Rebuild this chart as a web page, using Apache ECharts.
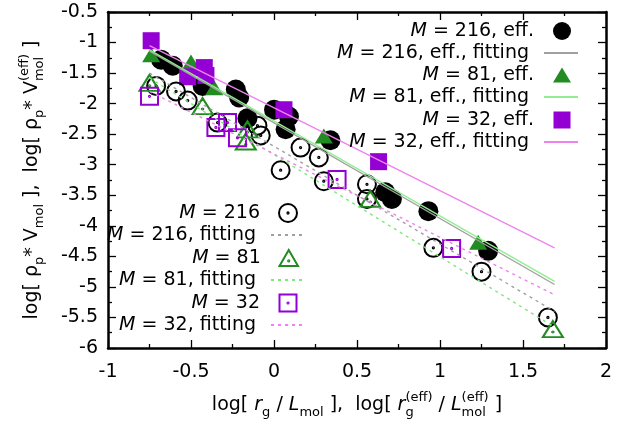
<!DOCTYPE html>
<html>
<head>
<meta charset="utf-8">
<script src="https://cdn.jsdelivr.net/npm/echarts@6/dist/echarts.min.js"></script>
<style>
html, body { margin: 0; padding: 0; background: #fff; }
#chart { width: 633px; height: 426px; }
</style>
</head>
<body>
<div id="chart"></div>
<script>
const FONT = "DejaVu Sans";

// axis ranges / ticks
const xMin = -1, xMax = 2, xStep = 0.5;
const yMin = -6, yMax = -0.5, yStep = 0.5;

// effective values (filled symbols), [log rg/L, log rho V]
const eff216 = [[-0.68, -1.28], [-0.61, -1.38], [-0.43, -1.71], [-0.23, -1.77], [-0.21, -1.90],
  [-0.16, -2.24], [0.00, -2.10], [0.09, -2.21], [0.07, -2.42], [0.34, -2.60],
  [0.67, -3.45], [0.71, -3.56], [0.93, -3.76], [1.29, -4.41]];
const eff81 = [[-0.74, -1.20], [-0.50, -1.32], [-0.36, -1.74], [0.30, -2.53], [1.23, -4.27]];
const eff32 = [[-0.74, -0.97], [-0.52, -1.56], [-0.42, -1.41], [-0.41, -1.54], [0.06, -2.10], [0.63, -2.95]];

// plain values (open symbols)
const raw216 = [[-0.71, -1.71], [-0.59, -1.80], [-0.52, -1.95], [-0.34, -2.31], [-0.10, -2.36],
  [-0.08, -2.52], [0.16, -2.72], [0.27, -2.88], [0.04, -3.09], [0.30, -3.27],
  [0.56, -3.32], [0.56, -3.56], [0.96, -4.36], [1.25, -4.75], [1.65, -5.50]];
const raw81 = [[-0.75, -1.66], [-0.43, -2.04], [-0.16, -2.42], [-0.17, -2.62], [0.58, -3.56], [1.68, -5.69]];
const raw32 = [[-0.75, -1.88], [-0.35, -2.39], [-0.28, -2.31], [-0.22, -2.56], [0.38, -3.24], [1.07, -4.37]];

// fitted lines (end points)
const fitEff216 = [[-0.75, -1.14], [1.69, -4.96]];
const fitEff81 = [[-0.75, -1.12], [1.69, -4.91]];
const fitEff32 = [[-0.75, -1.05], [1.69, -4.36]];
const fit216 = [[-0.75, -1.50], [1.69, -5.40]];
const fit81 = [[-0.75, -1.58], [1.69, -5.66]];
const fit32 = [[-0.75, -1.80], [1.69, -5.13]];

const GREEN = "#228B22", PURPLE = "#9400D3", GRAY = "#A0A0A0", LGREEN = "#90EE90", PINK = "#EE82EE";
const DOT_GREEN = "#7ee87e";

const ringDot = "path://M0,-10A10,10,0,1,1,0,10A10,10,0,1,1,0,-10ZM0,-0.7A0.7,0.7,0,1,1,0,0.7A0.7,0.7,0,1,1,0,-0.7Z";
const triDot = "path://M0,-10L11,9L-11,9ZM0,2.3A0.7,0.7,0,1,1,0,3.7A0.7,0.7,0,1,1,0,2.3Z";
const boxDot = "path://M-10,-10L10,-10L10,10L-10,10ZM0,-0.7A0.7,0.7,0,1,1,0,0.7A0.7,0.7,0,1,1,0,-0.7Z";

const scatter = (name, data, symbol, size, style) => ({
  name: name, type: "scatter", data: data, symbol: symbol, symbolSize: size,
  itemStyle: Object.assign({ opacity: 1 }, style), silent: true
});
const fitLine = (name, data, color, dotted) => ({
  name: name, type: "line", data: data, symbol: "none", silent: true,
  itemStyle: { color: color },
  lineStyle: { color: color, width: dotted ? 1.4 : 1.3, type: dotted ? [3, 4] : "solid" }
});
const open = (c) => ({ color: "rgba(0,0,0,0)", borderColor: c, borderWidth: 2 });

const series = [
  scatter("M = 216, eff.", eff216, "circle", 20, { color: "#000" }),
  fitLine("M = 216, eff., fitting", fitEff216, GRAY, false),
  scatter("M = 81, eff.", eff81, "triangle", [18, 15], { color: GREEN }),
  fitLine("M = 81, eff., fitting", fitEff81, LGREEN, false),
  scatter("M = 32, eff.", eff32, "rect", 17, { color: PURPLE }),
  fitLine("M = 32, eff., fitting", fitEff32, PINK, false),
  scatter("M = 216", raw216, ringDot, 18, open("#000")),
  fitLine("M = 216, fitting", fit216, GRAY, true),
  scatter("M = 81", raw81, triDot, [20, 16], open(GREEN)),
  fitLine("M = 81, fitting", fit81, DOT_GREEN, true),
  scatter("M = 32", raw32, boxDot, 17, open(PURPLE)),
  fitLine("M = 32, fitting", fit32, PINK, true)
];

// one legend per entry so that text is right aligned and symbols line up
function legendEntry(name, cy, cx, isLine, w, h) {
  const iw = isLine ? 34 : w;
  const ih = isLine ? 12 : h;
  const lg = {
    data: [name], orient: "vertical", align: "right", padding: 0, selectedMode: false,
    top: cy - 11, right: 633 - (cx + iw / 2),
    itemWidth: iw, itemHeight: ih,
    formatter: (n) => "{i|M}" + n.slice(1) + "{s| }",
    textStyle: {
      fontFamily: FONT, fontSize: 19, color: "#000", lineHeight: 22,
      rich: {
        i: { fontStyle: "italic", fontSize: 19, lineHeight: 22 },
        s: { width: isLine ? 10 : 23 - iw / 2, fontSize: 19, lineHeight: 22 }
      }
    }
  };
  if (isLine) lg.itemStyle = { color: "rgba(0,0,0,0)", borderWidth: 0, opacity: 0 };
  return lg;
}
const topRows = [31, 53, 75, 97, 120, 142];
const botRows = [213, 235, 258, 280, 303, 325];
const legends = [
  legendEntry("M = 216, eff.", topRows[0], 562, false, 18, 18),
  legendEntry("M = 216, eff., fitting", topRows[1], 562, true),
  legendEntry("M = 81, eff.", topRows[2], 562, false, 18, 15),
  legendEntry("M = 81, eff., fitting", topRows[3], 562, true),
  legendEntry("M = 32, eff.", topRows[4], 562, false, 17, 17),
  legendEntry("M = 32, eff., fitting", topRows[5], 562, true),
  legendEntry("M = 216", botRows[0], 289, false, 18, 18),
  legendEntry("M = 216, fitting", botRows[1], 289, true),
  legendEntry("M = 81", botRows[2], 289, false, 20, 16),
  legendEntry("M = 81, fitting", botRows[3], 289, true),
  legendEntry("M = 32", botRows[4], 289, false, 17, 17),
  legendEntry("M = 32, fitting", botRows[5], 289, true)
];

const nameRich = {
  n: { fontFamily: FONT, fontSize: 19, lineHeight: 28, verticalAlign: "middle", align: "left" },
  i: { fontFamily: FONT, fontSize: 19, lineHeight: 28, verticalAlign: "middle", align: "left", fontStyle: "italic" },
  b: { fontFamily: FONT, fontSize: 13, lineHeight: 13, verticalAlign: "bottom", align: "left" },
  b0: { fontFamily: FONT, fontSize: 13, lineHeight: 13, verticalAlign: "bottom", align: "left", width: 0 },
  t: { fontFamily: FONT, fontSize: 13, lineHeight: 13, verticalAlign: "top", align: "left" }
};

const tickCommon = {
  axisLine: { onZero: false, lineStyle: { color: "#000", width: 2.5 } },
  axisTick: { inside: true, length: 8, lineStyle: { color: "#000", width: 1.3 } },
  minorTick: { show: true, splitNumber: 2, length: 4, lineStyle: { color: "#000", width: 1.3 } },
  splitLine: { show: false }
};

const xBase = Object.assign({ type: "value", min: xMin, max: xMax, interval: xStep }, tickCommon);
const yBase = Object.assign({ type: "value", min: yMin, max: yMax, interval: yStep }, tickCommon);

const option = {
  animation: false,
  backgroundColor: "#fff",
  grid: { left: 108, right: 27, top: 12, bottom: 78, containLabel: false, outerBoundsMode: "none" },
  legend: legends,
  xAxis: [
    Object.assign({}, xBase, {
      position: "bottom",
      axisLabel: { fontFamily: FONT, fontSize: 19, color: "#000", margin: 15 },
      name: "{n|log[ }{i|r}{b|g}{n| / }{i|L}{b|mol}{n| ],  log[ }{i|r}{b0|g}{t|(eff)}{n| / }{i|L}{b0|mol}{t|(eff)}{n| ]}",
      nameLocation: "middle", nameGap: 43,
      nameTextStyle: { fontFamily: FONT, fontSize: 19, color: "#000", rich: nameRich }
    }),
    Object.assign({}, xBase, { position: "top", axisLabel: { show: false } })
  ],
  yAxis: [
    Object.assign({}, yBase, {
      position: "left",
      axisLabel: { fontFamily: FONT, fontSize: 19, color: "#000", margin: 10 },
      name: "{n|log[ ρ}{b|p}{n|* V}{b|mol}{n| ],  log[ ρ}{b|p}{n|* V}{b0|mol}{t|(eff)}{n| ]}",
      nameLocation: "middle", nameGap: 62,
      nameTextStyle: { fontFamily: FONT, fontSize: 19, color: "#000", rich: nameRich }
    }),
    Object.assign({}, yBase, { position: "right", axisLabel: { show: false } })
  ],
  series: series
};

const chart = echarts.init(document.getElementById("chart"), null, { renderer: "canvas" });
chart.setOption(option);
</script>
</body>
</html>
